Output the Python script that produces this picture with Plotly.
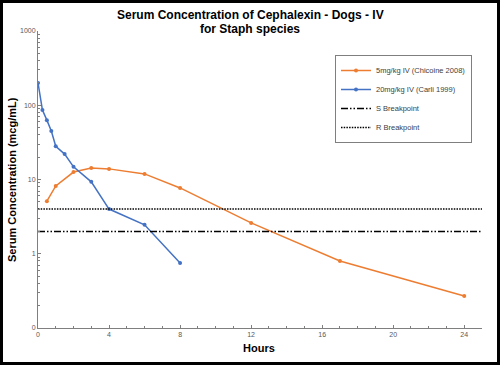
import plotly.graph_objects as go

# Data
t_5mg = [0.5, 1, 2, 3, 4, 6, 8, 12, 17, 24]
c_5mg = [5.1, 8.2, 12.6, 14.3, 13.9, 11.9, 7.7, 2.6, 0.80, 0.27]

t_20mg = [0, 0.25, 0.5, 0.75, 1, 1.5, 2, 3, 4, 6, 8]
c_20mg = [200, 86, 63, 45, 28, 22, 14.8, 9.3, 4.0, 2.45, 0.75]

s_breakpoint = 2
r_breakpoint = 4
x_span = [0, 25]

y_tickvals = [0.1, 1, 10, 100, 1000]
y_ticktext = ["0", "1", "10", "100", "1000"]
x_tickvals = [0, 4, 8, 12, 16, 20, 24]

W, H = 500, 365
ML, MR, MT, MB = 38, 18, 31, 37
PW, PH = W - ML - MR, H - MT - MB

fig = go.Figure()
fig.add_trace(go.Scatter(x=t_5mg, y=c_5mg, mode="lines+markers",
                         name="5mg/kg IV (Chicoine 2008)",
                         line=dict(color="#ED7D31", width=1.5),
                         marker=dict(size=4, color="#ED7D31")))
fig.add_trace(go.Scatter(x=t_20mg, y=c_20mg, mode="lines+markers",
                         name="20mg/kg IV (Carli 1999)",
                         line=dict(color="#4472C4", width=1.5),
                         marker=dict(size=4, color="#4472C4")))
fig.add_trace(go.Scatter(x=x_span, y=[s_breakpoint] * 2, mode="lines",
                         name="S Breakpoint",
                         line=dict(color="black", width=1.5, dash="7px,2px,1.5px,2px,1.5px,2px")))
fig.add_trace(go.Scatter(x=x_span, y=[r_breakpoint] * 2, mode="lines",
                         name="R Breakpoint",
                         line=dict(color="black", width=1.5, dash="1.5px,1.2px")))

minor_y = []
for d in [0.1, 1, 10, 100]:
    for k in range(2, 10):
        minor_y.append(d * k)

tickfont = dict(family="Arial, Liberation Sans", size=7, color="#595959")
titlefont = dict(family="Arial, Liberation Sans", size=11, color="black")

fig.update_layout(
    width=W, height=H,
    margin=dict(l=ML, r=MR, t=MT, b=MB, autoexpand=False),
    paper_bgcolor="white", plot_bgcolor="white",
    showlegend=True,
    legend=dict(x=(335 - ML) / PW, y=1 - (55 - MT) / PH, xanchor="left", yanchor="top",
                bgcolor="white", bordercolor="#7f7f7f", borderwidth=1,
                font=dict(family="Arial, Liberation Sans", size=7.5, color="#404040"),
                itemwidth=30, tracegroupgap=0),
    xaxis=dict(range=[0, 25], tickvals=x_tickvals, ticks="inside", ticklen=3,
               tickcolor="#7f7f7f", showline=True, linecolor="#7f7f7f", linewidth=1,
               showgrid=False, zeroline=False, tickfont=tickfont, automargin=False,
               minor=dict(dtick=1, ticks="inside", ticklen=2, tickcolor="#7f7f7f", showgrid=False)),
    yaxis=dict(type="log", range=[-1, 3], tickvals=y_tickvals, ticktext=y_ticktext,
               ticks="inside", ticklen=3, tickcolor="#7f7f7f",
               showline=True, linecolor="#7f7f7f", linewidth=1,
               showgrid=False, zeroline=False, tickfont=tickfont, automargin=False,
               minor=dict(tickvals=minor_y, ticks="inside", ticklen=2, tickcolor="#7f7f7f", showgrid=False)),
    annotations=[
        dict(text="<b>Serum Concentration of Cephalexin - Dogs - IV</b>",
             xref="paper", yref="paper", x=(250 - ML) / PW, y=1 + (MT - 15) / PH,
             xanchor="center", yanchor="middle", showarrow=False,
             font=dict(family="Arial, Liberation Sans", size=12, color="black")),
        dict(text="<b>for Staph species</b>",
             xref="paper", yref="paper", x=(250 - ML) / PW, y=1 + (MT - 29) / PH,
             xanchor="center", yanchor="middle", showarrow=False,
             font=dict(family="Arial, Liberation Sans", size=12, color="black")),
        dict(text="<b>Hours</b>", xref="paper", yref="paper",
             x=(259 - ML) / PW, y=-(348 - MT - PH) / PH,
             xanchor="center", yanchor="middle", showarrow=False, font=titlefont),
        dict(text="<b>Serum Concentration (mcg/mL)</b>", xref="paper", yref="paper",
             x=-(ML - 12) / PW, y=1 - (180 - MT) / PH, textangle=-90,
             xanchor="center", yanchor="middle", showarrow=False, font=titlefont),
    ],
    shapes=[dict(type="rect", xref="paper", yref="paper",
                 x0=(1.5 - ML) / PW, x1=(W - 1.5 - ML) / PW,
                 y0=-(MB - 1.5) / PH, y1=1 + (MT - 1.5) / PH,
                 line=dict(color="black", width=3), fillcolor="rgba(0,0,0,0)", layer="above")],
)

fig.write_html("out.html", config={"displayModeBar": False},
               post_script="document.body.style.margin='0';document.body.style.overflow='hidden';")
